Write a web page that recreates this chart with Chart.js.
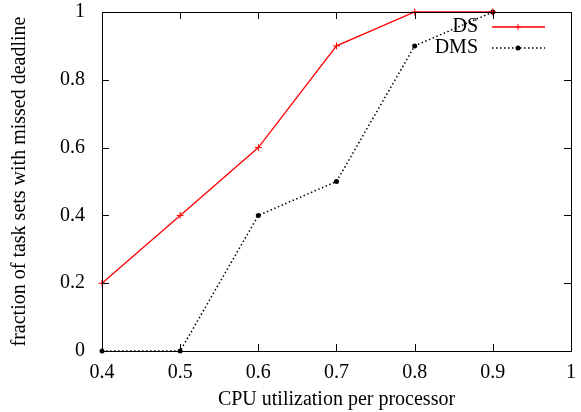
<!DOCTYPE html>
<html>
<head>
<meta charset="utf-8">
<script src="https://cdn.jsdelivr.net/npm/chart.js@4.4.0/dist/chart.umd.min.js"></script>
<style>
  html, body { margin: 0; padding: 0; background: #fff; }
  #wrap { width: 581px; height: 412px; }
</style>
</head>
<body>
<div id="wrap"><canvas id="chart" width="581" height="412"></canvas></div>
<script>
const utilization = [0.4, 0.5, 0.6, 0.7, 0.8, 0.9];
const dsMissed = [0.2, 0.4, 0.6, 0.9, 1, 1];
const dmsMissed = [0, 0, 0.4, 0.5, 0.9, 1];
const xTicks = [0.4, 0.5, 0.6, 0.7, 0.8, 0.9, 1];
const yTicks = [0, 0.2, 0.4, 0.6, 0.8, 1];

const font = 'Liberation Serif';
const fontSize = 20;

// gnuplot-like frame with inward ticks on all four sides plus the legend
const framePlugin = {
    id: 'frame',
    afterDatasetsDraw(chart) {
        const { ctx, chartArea: a, scales } = chart;
        ctx.save();
        ctx.strokeStyle = '#000';
        ctx.lineWidth = 1;
        ctx.strokeRect(a.left + 0.5, a.top + 0.5, a.right - a.left, a.bottom - a.top);
        const len = 7;
        ctx.beginPath();
        xTicks.forEach(v => {
            const x = Math.round(scales.x.getPixelForValue(v)) + 0.5;
            ctx.moveTo(x, a.bottom); ctx.lineTo(x, a.bottom - len);
            ctx.moveTo(x, a.top); ctx.lineTo(x, a.top + len);
        });
        yTicks.forEach(v => {
            const y = Math.round(scales.y.getPixelForValue(v)) + 0.5;
            ctx.moveTo(a.left, y); ctx.lineTo(a.left + len, y);
            ctx.moveTo(a.right, y); ctx.lineTo(a.right - len, y);
        });
        ctx.stroke();

        // legend
        ctx.font = fontSize + 'px "' + font + '"';
        ctx.fillStyle = '#000';
        ctx.textAlign = 'right';
        ctx.textBaseline = 'middle';
        const items = chart.data.datasets;
        items.forEach((ds, i) => {
            const y = 27 + i * 21;
            ctx.fillText(ds.label, 478, y);
            ctx.save();
            ctx.strokeStyle = ds.borderColor;
            ctx.lineWidth = ds.borderWidth;
            ctx.setLineDash(ds.borderDash || []);
            ctx.beginPath();
            ctx.moveTo(492, y); ctx.lineTo(545, y);
            ctx.stroke();
            ctx.setLineDash([]);
            const mx = 518;
            if (ds.pointStyle === 'cross') {
                ctx.lineWidth = 1;
                ctx.beginPath();
                ctx.moveTo(mx - 3, y); ctx.lineTo(mx + 3, y);
                ctx.moveTo(mx, y - 3); ctx.lineTo(mx, y + 3);
                ctx.stroke();
            } else {
                ctx.fillStyle = ds.pointBackgroundColor;
                ctx.beginPath();
                ctx.arc(mx, y, 2.5, 0, Math.PI * 2);
                ctx.fill();
            }
            ctx.restore();
        });
        ctx.restore();
    }
};

new Chart(document.getElementById('chart'), {
    type: 'line',
    data: {
        datasets: [
            {
                label: 'DS',
                data: utilization.map((x, i) => ({ x, y: dsMissed[i] })),
                borderColor: '#ff0000',
                borderWidth: 1.3,
                pointStyle: 'cross',
                pointRadius: 3.5,
                pointBorderWidth: 1,
                pointBorderColor: '#ff0000',
                pointBackgroundColor: '#ff0000',
                tension: 0
            },
            {
                label: 'DMS',
                data: utilization.map((x, i) => ({ x, y: dmsMissed[i] })),
                borderColor: '#000000',
                borderWidth: 1.5,
                borderDash: [1.5, 2.5],
                pointStyle: 'circle',
                pointRadius: 2.5,
                pointBorderWidth: 0,
                pointBackgroundColor: '#000000',
                tension: 0
            }
        ]
    },
    options: {
        responsive: false,
        animation: false,
        clip: false,
        layout: { padding: { top: 12, right: 10, left: 0, bottom: 0 } },
        plugins: { legend: { display: false }, tooltip: { enabled: false } },
        scales: {
            x: {
                type: 'linear',
                min: 0.4,
                max: 1,
                afterBuildTicks: s => { s.ticks = xTicks.map(v => ({ value: v })); },
                afterFit: s => { s.height = 61; s.paddingLeft = 0; s.paddingRight = 0; },
                grid: { display: false },
                border: { display: false },
                ticks: {
                    color: '#000',
                    font: { family: font, size: fontSize },
                    padding: 2,
                    maxRotation: 0,
                    callback: v => String(Math.round(v * 10) / 10)
                },
                title: {
                    display: true,
                    text: 'CPU utilization per processor',
                    color: '#000',
                    font: { family: font, size: fontSize },
                    padding: { top: 12, bottom: 0 }
                }
            },
            y: {
                min: 0,
                max: 1,
                afterBuildTicks: s => { s.ticks = yTicks.map(v => ({ value: v })); },
                afterFit: s => { s.width = 102; s.paddingTop = 0; s.paddingBottom = 0; },
                grid: { display: false },
                border: { display: false },
                ticks: {
                    color: '#000',
                    font: { family: font, size: fontSize },
                    padding: 9,
                    callback: v => String(Math.round(v * 10) / 10)
                },
                title: {
                    display: true,
                    text: 'fraction of task sets with missed deadline',
                    color: '#000',
                    font: { family: font, size: fontSize },
                    padding: { top: 8, bottom: 4 }
                }
            }
        }
    },
    plugins: [framePlugin]
});
</script>
</body>
</html>
